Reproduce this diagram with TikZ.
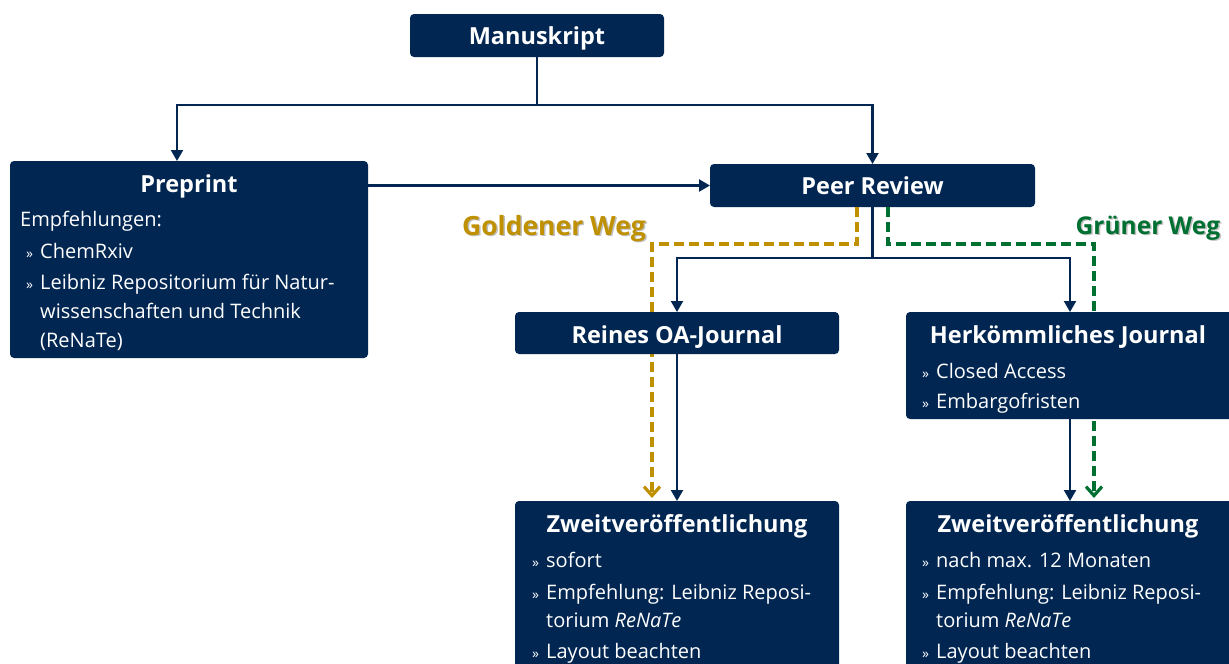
\documentclass[tikz,border=0pt]{standalone}
\usepackage{fontspec}
\setmainfont{Open Sans}
\usetikzlibrary{arrows.meta,calc}
\definecolor{navy}{RGB}{1,38,82}
\definecolor{gold}{RGB}{191,144,0}
\definecolor{grn}{RGB}{0,112,50}
\newcommand{\bul}{\makebox[14pt][l]{\fontsize{14}{14}\selectfont »}}
\begin{document}
\begin{tikzpicture}[x=1pt,y=-1pt,
  box/.style={fill=navy, rounded corners=4pt, draw=none, inner sep=0pt, outer sep=0pt},
  ttl/.style={text=white, font=\fontsize{23.5}{26}\selectfont\bfseries, inner sep=0pt, anchor=base},
  txt/.style={text=white, font=\fontsize{20}{29}\selectfont, inner sep=0pt, anchor=base west},
  conn/.style={draw=navy, line width=2.2pt, -{Triangle[length=11pt,width=12pt]}},
  plain/.style={draw=navy, line width=2.2pt},
  golddash/.style={draw=gold, line width=3.2pt, dash pattern=on 10pt off 5pt, -{Straight Barb[length=9pt,width=16pt]}},
  grndash/.style={draw=grn, line width=3.2pt, dash pattern=on 10pt off 5pt, -{Straight Barb[length=9pt,width=16pt]}},
  lbl/.style={inner sep=0pt, anchor=base},
  shd/.style={inner sep=0pt, anchor=base, text=black!25}
]
\useasboundingbox (0,0) rectangle (1229,664);
\begin{scope}
\clip (0,0) rectangle (1229,664);
% boxes (positions only, drawn after dashed lines)
\path
  node[box, minimum width=254pt, minimum height=43pt] (man) at (537,35.5) {}
  node[box, minimum width=358pt, minimum height=197pt] (pre) at (189,259.5) {}
  node[box, minimum width=325pt, minimum height=43pt] (pr) at (872.5,185.5) {};

% dashed routes (behind the boxes)
\coordinate (gend) at (652,501);
\coordinate (nend) at (1094,501);
\draw[golddash, shorten >=3pt] ($(pr.south)+(-15.5,0)$) -- ++(0,37) -| (gend);
\draw[grndash, shorten >=3pt] ($(pr.south)+(15.5,0)$) -- ++(0,37) -| (nend);

\node[box, minimum width=324pt, minimum height=42pt] (oa) at (677,333) {};
\node[box, minimum width=328pt, minimum height=107pt] (herk) at (1070,365.5) {};
\node[box, minimum width=324pt, minimum height=180pt] (z1) at (677,591) {};
\node[box, minimum width=328pt, minimum height=180pt] (z2) at (1070,591) {};

% titles
\node[ttl] (manT) at (537,44) {Manuskript};
\node[ttl] (preT) at (189,192) {Preprint};
\node[ttl] (prT) at (872.5,194) {Peer Review};
\node[ttl] (oaT) at (677,343) {Reines OA-Journal};
\node[ttl] (herkT) at (1068,343) {Herkömmliches Journal};
\node[ttl] (z1T) at (677,532) {Zweitveröffentlichung};
\node[ttl] (z2T) at (1068,532) {Zweitveröffentlichung};

% preprint text
\node[txt] (p1) at (20,226) {Empfehlungen:};
\node[txt] (p2) at (26,258) {\bul ChemRxiv};
\node[txt] (p3) at (26,289) {\bul Leibniz Repositorium für Natur-};
\node[txt] (p4) at (40,318) {wissenschaften und Technik};
\node[txt] (p5) at (40,347) {(ReNaTe)};

% herk text
\node[txt] (h1) at (922,378) {\bul Closed Access};
\node[txt] (h2) at (922,408) {\bul Embargofristen};

% z1 text
\node[txt] (a1) at (532,567) {\bul sofort};
\node[txt] (a2) at (532,599) {\bul Empfehlung: Leibniz Reposi-};
\node[txt] (a3) at (546,627) {torium \textit{ReNaTe}};
\node[txt] (a4) at (532,658) {\bul Layout beachten};

% z2 text
\node[txt] (b1) at (922,567) {\bul nach max. 12 Monaten};
\node[txt] (b2) at (922,599) {\bul Empfehlung: Leibniz Reposi-};
\node[txt] (b3) at (936,627) {torium \textit{ReNaTe}};
\node[txt] (b4) at (922,658) {\bul Layout beachten};

% labels
\node[shd, font=\fontsize{26.5}{30}\selectfont\bfseries] (gs) at (555.5,236.5) {Goldener Weg};
\node[lbl, text=gold, font=\fontsize{26.5}{30}\selectfont\bfseries] (gl) at (554,235) {Goldener Weg};
\node[shd, font=\fontsize{24.5}{28}\selectfont\bfseries] (ns) at (1149.5,235.5) {Grüner Weg};
\node[lbl, text=grn, font=\fontsize{24.5}{28}\selectfont\bfseries] (nl) at (1148,234) {Grüner Weg};

% connectors
\coordinate (j1) at (537,105);
\coordinate (j2) at (872.5,258);
\draw[plain] (man.south) -- (j1);
\draw[conn] (j1) -| ($(pre.north)+(-12,0)$);
\draw[conn] (j1) -| (pr.north);
\draw[conn] (pre.east |- pr.west) -- (pr.west);
\draw[plain] (pr.south) -- (j2);
\draw[conn] (j2) -| (oa.north);
\draw[conn] (j2) -| (herk.north);
\draw[conn] (oa.south) -- (z1.north);
\draw[conn] (herk.south) -- (z2.north);
\end{scope}
\end{tikzpicture}
\end{document}
